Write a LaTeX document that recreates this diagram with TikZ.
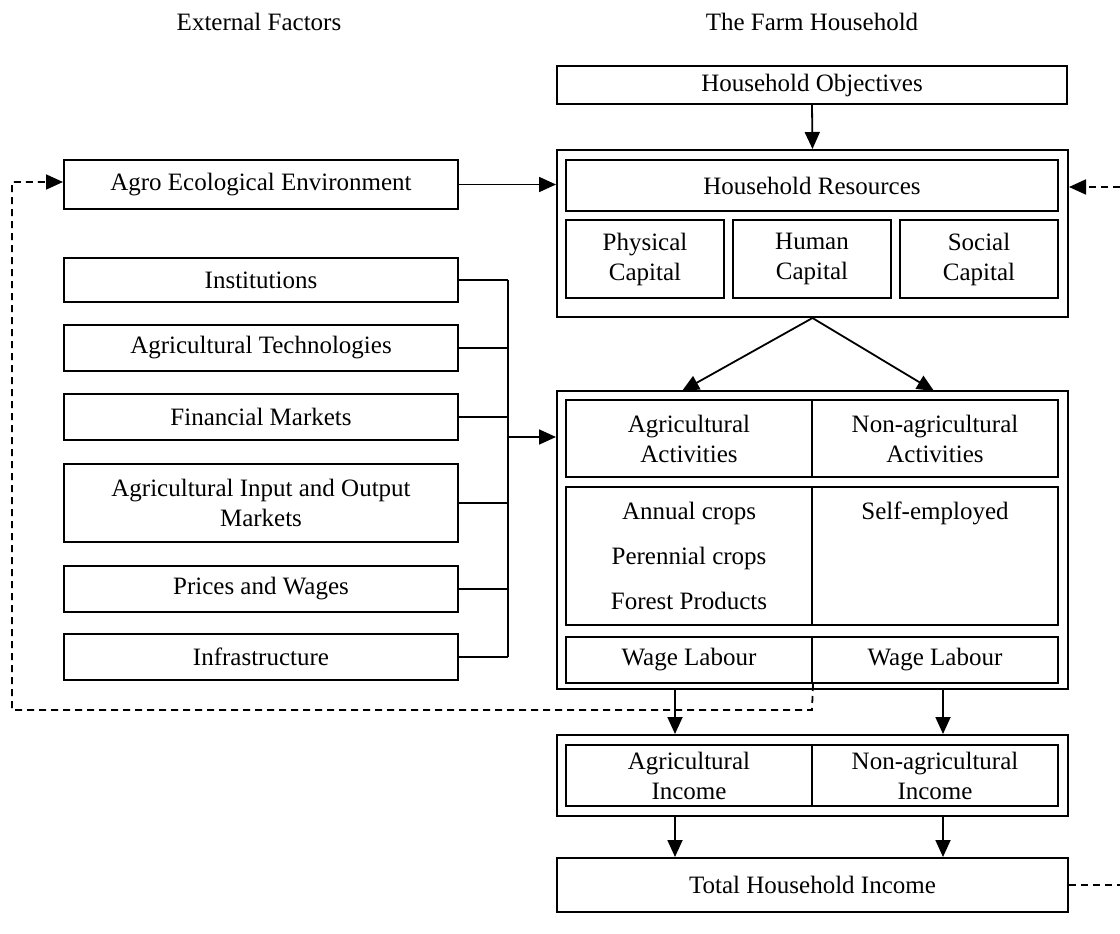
\documentclass[tikz,border=0pt]{standalone}
\usepackage{fontspec}
\setmainfont{Liberation Serif}
\usetikzlibrary{arrows.meta}
\begin{document}
\begin{tikzpicture}[x=1pt,y=-1pt,
  box/.style={draw, line width=2pt, inner sep=0pt, align=center, font=\fontsize{25}{30}\selectfont},
  lbl/.style={inner sep=0pt, align=center, font=\fontsize{25}{30}\selectfont},
  arr/.style={line width=1.8pt, -{Triangle[length=17pt,width=15pt]}},
  ln/.style={line width=1.8pt},
  dsh/.style={line width=1.8pt, dash pattern=on 7pt off 5pt}]
\useasboundingbox (0,0) rectangle (1120,934);

% titles
\node[lbl] (extT) at (259,22) {External Factors};
\node[lbl] (farmT) at (812,22) {The Farm Household};

% household side
\node[box, minimum width=510pt, minimum height=38pt] (obj) at (812,85) {Household Objectives};
\node[box, minimum width=511pt, minimum height=167pt] (resO) at (812.5,233.5) {};
\node[box, minimum width=492pt, minimum height=51pt] (res) at (812,185.5) {Household Resources};
\node[box, minimum width=158pt, minimum height=78pt] (phys) at (645,259) {Physical\\Capital};
\node[box, minimum width=158pt, minimum height=78pt] (hum) at (812,259) {Human\\Capital};
\node[box, minimum width=158pt, minimum height=78pt] (soc) at (979,259) {Social\\Capital};

\node[box, minimum width=511pt, minimum height=298pt] (actO) at (812.5,540) {};
\node[box, minimum width=246pt, minimum height=77pt] (agAct) at (689,438.5) {Agricultural\\Activities};
\node[box, minimum width=246pt, minimum height=77pt] (nonAct) at (935,438.5) {Non-agricultural\\Activities};
\node[box, minimum width=246pt, minimum height=138pt] (crops) at (689,556) {Annual crops\\[15pt]Perennial crops\\[15pt]Forest Products};
\node[box, minimum width=246pt, minimum height=138pt] (self) at (935,556) {};
\node[lbl] (selfT) at (935,513) {Self-employed};
\node[box, minimum width=246pt, minimum height=46pt] (wage1) at (689,660) {Wage Labour};
\node[box, minimum width=246pt, minimum height=46pt] (wage2) at (935,660) {Wage Labour};

\node[box, minimum width=511pt, minimum height=81pt] (incO) at (812.5,775.5) {};
\node[box, minimum width=246pt, minimum height=61pt] (agInc) at (689,775.5) {Agricultural\\Income};
\node[box, minimum width=246pt, minimum height=61pt] (nonInc) at (935,775.5) {Non-agricultural\\Income};

\node[box, minimum width=511pt, minimum height=54pt] (total) at (812.5,885) {Total Household Income};

% external factors
\node[box, minimum width=394pt, minimum height=49pt] (agro) at (261,184.5) {Agro Ecological Environment};
\node[box, minimum width=394pt, minimum height=44pt] (inst) at (261,280) {Institutions};
\node[box, minimum width=394pt, minimum height=46pt] (tech) at (261,348) {Agricultural Technologies};
\node[box, minimum width=394pt, minimum height=46pt] (fin) at (261,417) {Financial Markets};
\node[box, minimum width=394pt, minimum height=78pt] (aiom) at (261,503) {Agricultural Input and Output\\Markets};
\node[box, minimum width=394pt, minimum height=46pt] (price) at (261,589) {Prices and Wages};
\node[box, minimum width=394pt, minimum height=46pt] (infra) at (261,657) {Infrastructure};

% coordinates
\coordinate (busX) at (508,0);
\coordinate (busMid) at (508,437);
\coordinate (rIn) at (1120,187);
\coordinate (rOut) at (1120,885);
\coordinate (dBR) at (812,710);
\coordinate (dBL) at (12,710);
\coordinate (dTL) at (12,182);
\coordinate (tL) at (682,391);
\coordinate (tR) at (934,391);

% arrows
\draw[arr] (obj.south) -- (resO.north);
\draw[arr] (agro.east) -- (agro.east -| resO.west);
\draw[arr, dash pattern=on 7pt off 5pt] (rIn) -- (rIn -| resO.east);
\draw[arr, dash pattern=on 7pt off 5pt] (wage1.south east) -- (dBR) -- (dBL) -- (dTL) -- (dTL -| agro.west);

\foreach \n in {inst,tech,fin,aiom,price,infra}
  \draw[ln] (\n.east) -- (\n.east -| busX);
\draw[ln] (inst.east -| busX) -- (infra.east -| busX);
\draw[arr] (busMid) -- (busMid -| actO.west);

\draw[arr] (resO.south) -- (tL);
\draw[arr] (resO.south) -- (tR);

\draw[arr] (actO.south -| 675,0) -- (incO.north -| 675,0);
\draw[arr] (actO.south -| 943,0) -- (incO.north -| 943,0);
\draw[arr] (incO.south -| 675,0) -- (total.north -| 675,0);
\draw[arr] (incO.south -| 943,0) -- (total.north -| 943,0);

\draw[dsh] (total.east) -- (total.east -| rOut);
\end{tikzpicture}
\end{document}
